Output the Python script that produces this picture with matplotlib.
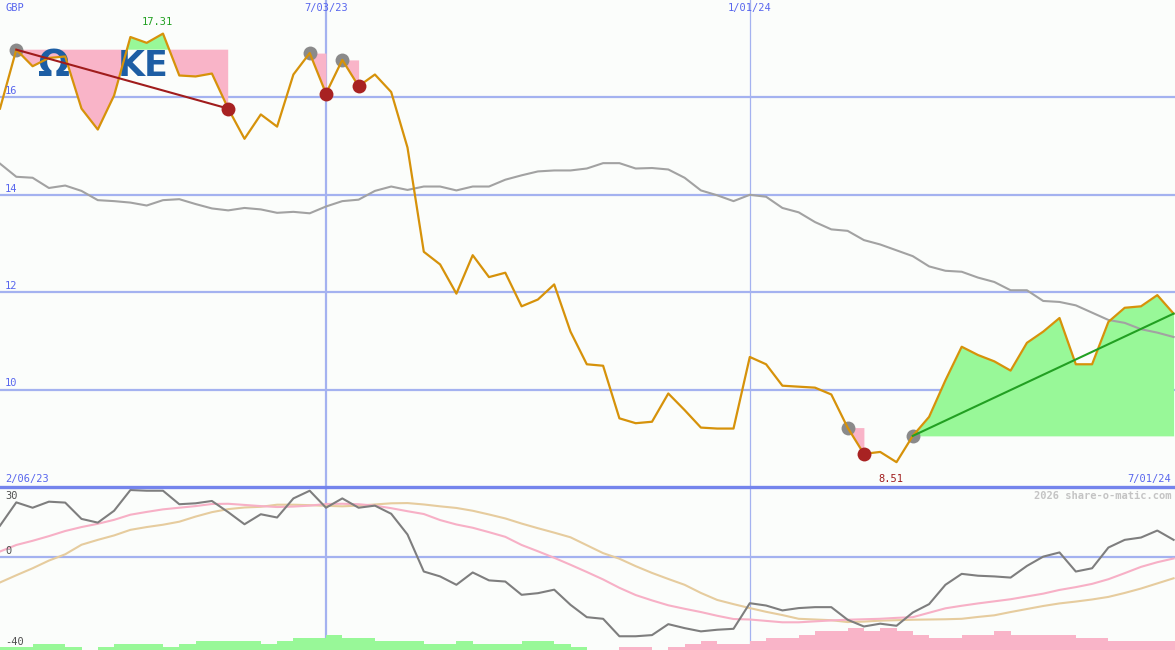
import matplotlib
matplotlib.use("Agg")
import matplotlib.pyplot as plt
from matplotlib.lines import Line2D
import numpy as np
import pandas as pd

# ---------------- data ----------------
start_date = "2023-02-13"
n_weeks = 73
weeks = pd.date_range(start_date, periods=n_weeks, freq="7D")

price = [15.77, 16.98, 16.64, 16.81, 16.84, 15.77, 15.34, 16.04, 17.24, 17.12,
         17.31, 16.45, 16.43, 16.49, 15.77, 15.15, 15.65, 15.40, 16.47, 16.91,
         16.08, 16.77, 16.23, 16.47, 16.11, 14.97, 12.83, 12.57, 11.97, 12.76,
         12.31, 12.40, 11.71, 11.85, 12.16, 11.19, 10.52, 10.49, 9.41, 9.31,
         9.34, 9.92, 9.58, 9.22, 9.20, 9.20, 10.67, 10.52, 10.08, 10.06,
         10.04, 9.90, 9.22, 8.68, 8.72, 8.51, 9.05, 9.44, 10.19, 10.88,
         10.71, 10.58, 10.39, 10.96, 11.19, 11.47, 10.52, 10.52, 11.39, 11.68,
         11.71, 11.94, 11.56]

moving_avg = [14.64, 14.37, 14.35, 14.14, 14.19, 14.08, 13.89, 13.87, 13.84, 13.78,
              13.89, 13.91, 13.81, 13.72, 13.68, 13.73, 13.70, 13.63, 13.65, 13.62,
              13.76, 13.87, 13.90, 14.08, 14.17, 14.10, 14.17, 14.17, 14.09, 14.17,
              14.17, 14.31, 14.40, 14.48, 14.50, 14.50, 14.54, 14.65, 14.65, 14.54,
              14.55, 14.52, 14.35, 14.09, 13.99, 13.87, 14.00, 13.96, 13.73, 13.64,
              13.44, 13.29, 13.26, 13.07, 12.98, 12.86, 12.74, 12.53, 12.44, 12.42,
              12.30, 12.21, 12.04, 12.04, 11.82, 11.80, 11.73, 11.58, 11.43, 11.37,
              11.24, 11.17, 11.08]

momentum = [13.4, 23.4, 21.1, 23.7, 23.3, 16.3, 14.7, 19.8, 28.7, 28.4,
            28.4, 22.6, 23.0, 24.0, 19.2, 14.0, 18.3, 16.9, 25.1, 28.4,
            21.1, 25.1, 21.1, 22.0, 18.5, 9.6, -6.3, -8.4, -12.0, -6.7,
            -10.1, -10.6, -16.3, -15.6, -14.1, -20.6, -25.9, -26.6, -34.1, -34.1,
            -33.6, -28.9, -30.6, -32.0, -31.3, -30.9, -19.9, -20.9, -23.0, -22.0,
            -21.6, -21.6, -27.0, -29.9, -28.7, -29.6, -23.9, -20.3, -12.0, -7.3,
            -8.1, -8.4, -8.9, -3.9, 0.1, 1.9, -6.3, -4.9, 4.0, 7.3,
            8.3, 11.3, 7.3]

signal_fast = [2.3, 5.1, 6.9, 8.9, 11.1, 12.8, 14.2, 15.9, 18.1, 19.3,
               20.4, 21.1, 21.8, 22.7, 22.8, 22.3, 21.8, 21.4, 21.6, 22.0,
               22.7, 22.8, 22.6, 22.0, 20.9, 19.6, 18.4, 15.8, 13.9, 12.5,
               10.6, 8.6, 5.1, 2.4, -0.4, -3.4, -6.5, -9.7, -13.3, -16.4,
               -18.7, -20.8, -22.3, -23.7, -25.3, -26.7, -26.9, -27.5, -28.1, -28.1,
               -27.7, -27.3, -27.0, -26.8, -26.6, -26.2, -25.9, -24.0, -22.1, -21.0,
               -20.0, -19.1, -18.2, -17.0, -15.8, -14.2, -13.0, -11.6, -9.6, -7.0,
               -4.3, -2.3, -0.7]

signal_slow = [-11.0, -7.9, -4.9, -1.6, 1.1, 5.2, 7.3, 9.2, 11.6, 12.8,
               13.8, 15.1, 17.3, 19.2, 20.5, 21.2, 21.5, 22.4, 22.4, 22.2,
               21.9, 21.7, 22.0, 22.5, 23.0, 23.1, 22.5, 21.7, 21.0, 19.8,
               18.2, 16.5, 14.3, 12.3, 10.4, 8.4, 5.0, 1.6, -0.8, -4.0,
               -6.9, -9.5, -12.0, -15.5, -18.5, -20.3, -22.0, -23.6, -25.0, -26.6,
               -26.9, -27.2, -28.0, -27.8, -27.4, -27.2, -27.0, -26.9, -26.8, -26.6,
               -25.8, -25.1, -23.7, -22.4, -21.1, -20.0, -19.2, -18.3, -17.2, -15.5,
               -13.6, -11.4, -9.2]

histogram = [1.3, 1.3, 2.6, 2.6, 1.3, 0.0, 1.3, 2.6, 2.6, 2.6,
             1.3, 2.6, 3.9, 3.9, 3.9, 3.9, 2.6, 3.9, 5.1, 5.1,
             6.4, 5.1, 5.1, 3.9, 3.9, 3.9, 2.6, 2.6, 3.9, 2.6,
             2.6, 2.6, 3.9, 3.9, 2.6, 1.3, 0.0, 0.0, -1.3, -1.3,
             0.0, -1.3, -2.6, -3.9, -2.6, -2.6, -3.9, -5.1, -5.1, -6.4,
             -8.1, -8.1, -9.4, -8.1, -9.4, -8.1, -6.4, -5.1, -5.1, -6.4,
             -6.4, -8.1, -6.4, -6.4, -6.4, -6.4, -5.1, -5.1, -3.9, -3.9,
             -3.9, -3.9, -3.9]

# drawdown episodes (peak index, trough index) and the rally episode
drawdowns = [(1, 14), (19, 20), (21, 22), (52, 53)]
rally = (56, 72)
trend_down = (1, 14)

price_grid = [10, 12, 14, 16]
price_labels = ["10", "12", "14", "16"]
ind_labels = ["30", "0", "-40"]
marker_dates = ["2023-07-03", "2024-01-01"]
marker_labels = ["7/03/23", "1/01/24"]
corner_left = "2/06/23"
corner_right = "7/01/24"
max_label = "17.31"
min_label = "8.51"
currency = "GBP"
credit = "2026 share-o-matic.com"
logo_parts = ["\u03a9", "KE"]

# ---------------- styling ----------------
W, H = 1175, 650
BG = "#fbfdfb"
GRID = "#a4b2f0"
DIV = "#7484ec"
LBL = "#5866ee"
ORANGE = "#d6920a"
PINK = "#f9b4c8"
GREEN = "#98f898"
MONO = "DejaVu Sans Mono"

fig = plt.figure(figsize=(W / 100, H / 100), dpi=100, facecolor=BG)
split = 487
ax = fig.add_axes([0, 1 - split / H, 1, split / H])
axi = fig.add_axes([0, 0, 1, 1 - split / H])
for a in (ax, axi):
    a.set_facecolor(BG)
    for s in a.spines.values():
        s.set_visible(False)
    a.set_xticks([])
    a.set_yticks([])

x = weeks
xlim = (weeks[0], weeks[-1] + pd.Timedelta(days=0.6))
pr = np.array(price)

# --- price panel ---
ax.set_xlim(xlim)
ax.set_ylim(8, 18)
for g in price_grid:
    ax.axhline(g, color=GRID, lw=1.6, zorder=1)
mdates_x = [pd.Timestamp(d) for d in marker_dates]
ax.axvline(mdates_x[0], color=GRID, lw=1.6, zorder=1)
ax.axvline(mdates_x[1], color=GRID, lw=0.9, zorder=1)

# drawdown shading
for p, t in drawdowns:
    xs = x[p:t + 1]
    ys = pr[p:t + 1]
    lvl = pr[p]
    ax.fill_between(xs, lvl, ys, where=ys <= lvl, interpolate=True,
                    color=PINK, lw=0, zorder=2)
    ax.fill_between(xs, lvl, ys, where=ys >= lvl, interpolate=True,
                    color=GREEN, lw=0, zorder=2)
p, t = rally
xs = x[p:t + 1]
ys = pr[p:t + 1]
ax.fill_between(xs, pr[p], ys, where=ys >= pr[p], interpolate=True,
                color=GREEN, lw=0, zorder=2)

# logo (partially hidden company logo), placed in axes-fraction coords
def axfrac(px, py):
    return px / W, 1 - py / split

ax.text(*axfrac(38, 76), logo_parts[0], transform=ax.transAxes, fontsize=27,
        fontweight="bold", color="#1d5ea4", zorder=3, va="baseline")
ax.text(*axfrac(118, 76), logo_parts[1], transform=ax.transAxes, fontsize=25,
        fontweight="bold", color="#1d5ea4", zorder=3, va="baseline")

ax.plot(x, moving_avg, color="#a2a2a2", lw=1.5, zorder=4)

# grey peak dots (below line)
peaks = [d[0] for d in drawdowns] + [rally[0]]
ax.plot(x[peaks], pr[peaks], "o", color="#8a8a8a", ms=10, mec="none", zorder=4)

ax.plot(x, price, color=ORANGE, lw=1.6, zorder=5)

# trend lines
a0, a1 = trend_down
ax.plot([x[a0], x[a1]], [pr[a0], pr[a1]], color="#a01c1c", lw=1.5, zorder=6)
r0, r1 = rally
ax.plot([x[r0], x[r1]], [pr[r0], pr[r1]], color="#22a022", lw=1.5, zorder=6)

troughs = [d[1] for d in drawdowns]
ax.plot(x[troughs], pr[troughs], "o", color="#a82222", ms=10, mec="none", zorder=7)

# --- indicator panel ---
axi.set_xlim(xlim)
axi.set_ylim(-40, 30)
axi.axhline(0, color=GRID, lw=1.6, zorder=1)
axi.axvline(mdates_x[0], color=GRID, lw=1.6, zorder=1)
axi.axvline(mdates_x[1], color=GRID, lw=0.9, zorder=1)
hist = np.array(histogram)
axi.bar(x, np.abs(hist), bottom=-40, width=7, align="edge",
        color=[GREEN if h > 0 else PINK for h in hist], lw=0, zorder=2)
axi.plot(x, signal_slow, color="#e6cc9e", lw=1.5, zorder=3)
axi.plot(x, signal_fast, color="#f7b0c6", lw=1.5, zorder=3)
axi.plot(x, momentum, color="#7e7e7e", lw=1.5, zorder=4)

# divider
fig.add_artist(Line2D([0, 1], [1 - split / H, 1 - split / H], color=DIV, lw=2.4,
                      transform=fig.transFigure, zorder=10))

# ---------------- text ----------------
def ftext(px, py, s, color=LBL, ha="left", va="center", **kw):
    fig.text(px / W, 1 - py / H, s, color=color, ha=ha, va=va,
             family=MONO, fontsize=7.5, **kw)

ftext(5, 8, currency)
for g, lab in zip(price_grid, price_labels):
    py = 97 + (16 - g) * 48.75
    ftext(5, py - 6, lab)
for d, lab in zip(mdates_x, marker_labels):
    px = (d - weeks[0]).days / 7 * 16.3
    ftext(px, 8, lab, ha="center")
ftext(5, 479, corner_left)
ftext(1171, 479, corner_right, ha="right")
imax = int(np.argmax(pr))
imin = int(np.argmin(pr))
ftext(imax * 16.3 - 6, 22, max_label, color="#22a022", ha="center")
ftext(imin * 16.3 - 6, 479, min_label, color="#a01c1c", ha="center")
ftext(1172, 496, credit, color="#c4c4c4", ha="right", fontweight="bold")
ftext(5, 496, ind_labels[0], color="#505050")
ftext(5, 551, ind_labels[1], color="#505050")
ftext(5, 642, ind_labels[2], color="#505050")

fig.savefig("out.png", dpi=100, facecolor=BG)
